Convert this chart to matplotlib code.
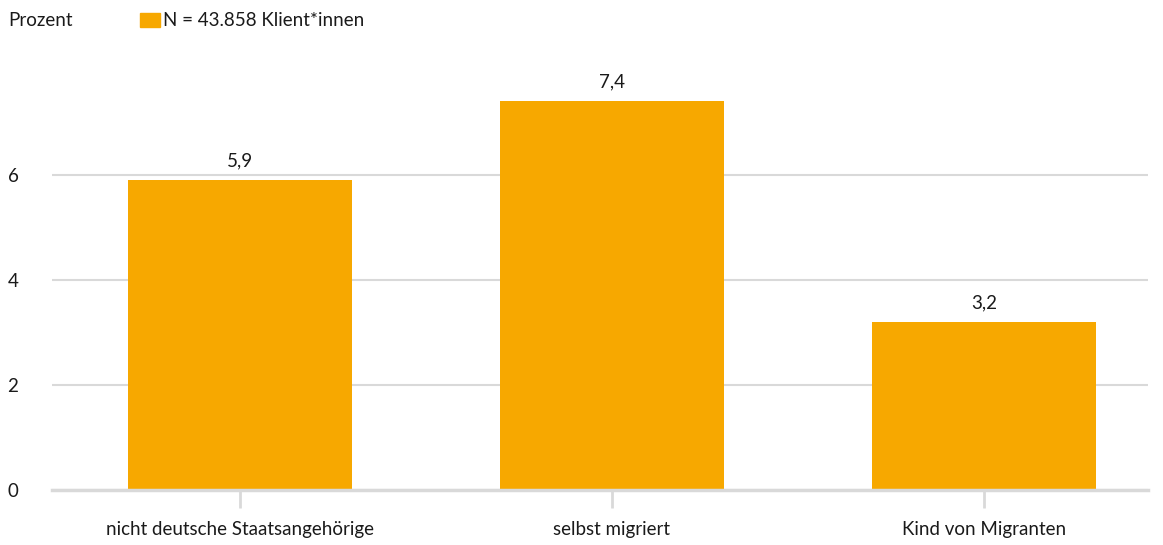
import matplotlib.pyplot as plt

plt.rcParams['font.family'] = ['Lato', 'DejaVu Sans']

categories = ['nicht deutsche Staatsangehörige', 'selbst migriert', 'Kind von Migranten']
values = [5.9, 7.4, 3.2]
value_labels = ['5,9', '7,4', '3,2']
yticks = [0, 2, 4, 6]
legend_label = 'N = 43.858 Klient*innen'

bar_color = '#f7a800'
grid_color = '#d9d9d9'
text_color = '#1a1a1a'
fs = 13.5

fig = plt.figure(figsize=(11.63, 5.45), dpi=100)
ax = fig.add_axes([52 / 1163, 55 / 545, 1096 / 1163, 420 / 545])

x = range(len(categories))
bars = ax.bar(x, values, width=0.602, color=bar_color, zorder=2)

for b, lab in zip(bars, value_labels):
    ax.annotate(lab, (b.get_x() + b.get_width() / 2, b.get_height()),
                xytext=(0, 8), textcoords='offset points',
                ha='center', va='bottom', fontsize=fs, color=text_color)

ax.set_xlim(-0.505, 2.441)
ax.set_ylim(0, 8)
ax.set_yticks(yticks)
ax.set_yticklabels([str(v) for v in yticks], fontsize=fs, color=text_color, ha='left')
ax.yaxis.set_tick_params(length=0, pad=32)
ax.set_xticks(list(x))
ax.set_xticklabels(categories, fontsize=fs, color=text_color)
ax.xaxis.set_tick_params(length=13, width=2, color=grid_color, pad=9)

ax.grid(axis='y', color=grid_color, linewidth=1.5, zorder=0)
for s in ['top', 'right', 'left']:
    ax.spines[s].set_visible(False)
ax.spines['bottom'].set_color(grid_color)
ax.spines['bottom'].set_linewidth(2.5)
ax.spines['bottom'].set_zorder(3)

fig.text(8 / 1163, 1 - 21 / 545, 'Prozent', fontsize=fs, color=text_color, va='center')
fig.patches.append(plt.Rectangle((140 / 1163, 1 - 27 / 545), 20 / 1163, 14 / 545,
                                 transform=fig.transFigure, color=bar_color, figure=fig))
fig.text(163 / 1163, 1 - 21 / 545, legend_label, fontsize=fs, color=text_color, va='center')

fig.savefig('out.png', dpi=100)
